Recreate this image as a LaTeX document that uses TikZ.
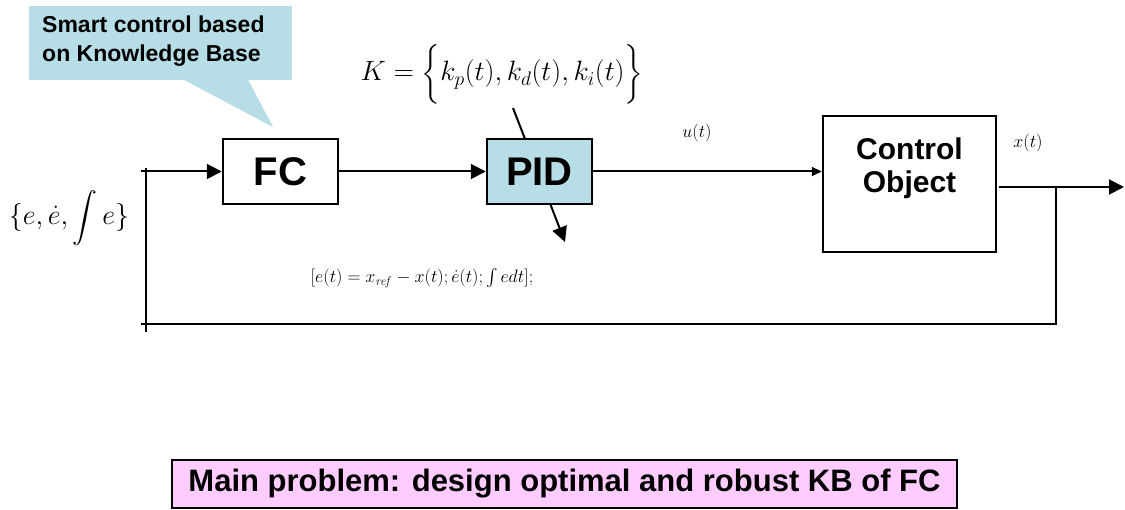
\RequirePackage{fix-cm}
\documentclass[tikz,border=0pt]{standalone}
\usepackage{exscale}
\usepackage[no-math]{fontspec}
\newfontfamily\arial{Liberation Sans}
\usetikzlibrary{arrows.meta}
\definecolor{calloutblue}{RGB}{183,221,230}
\definecolor{probpink}{RGB}{255,204,255}
\begin{document}
\begin{tikzpicture}[x=1pt,y=-1pt,
  block/.style={draw=black, line width=2.5pt, inner sep=0pt, align=center},
  conn/.style={line width=2pt},
  bigarrow/.style={conn, -{Triangle[length=15pt,width=15pt]}},
  smallarrow/.style={conn, -{Triangle[length=10pt,width=9pt]}},
  blabel/.style={font=\arial\bfseries\fontsize{40}{44}\selectfont},
  mlabel/.style={inner sep=0pt}
]
\useasboundingbox (0,0) rectangle (1125,510);

% callout
\node[fill=calloutblue, minimum width=263pt, minimum height=74pt, inner sep=0pt, anchor=north west] (callout) at (29,6) {};
\coordinate (tip) at (273,127);
\fill[calloutblue] ([xshift=154pt,yshift=1pt]callout.south west) -- (tip) -- ([xshift=219pt,yshift=1pt]callout.south west) -- cycle;
\node[anchor=north west, align=left, inner sep=0pt, font=\arial\bfseries\fontsize{23}{29}\selectfont] (calltext) at (42,16) {Smart control based\\on Knowledge Base};

% K line (behind PID)
\coordinate (kstart) at (513,108);
\coordinate (kend) at (565,242);
\draw[bigarrow] (kstart) -- (kend);

% blocks
\node[block, blabel, minimum width=115pt, minimum height=65pt] (FC) at (280.5,171.5) {FC};
\node[block, blabel, fill=calloutblue, minimum width=105pt, minimum height=65pt] (PID) at (539.5,171.5) {PID};
\node[block, font=\arial\bfseries\fontsize{30}{33}\selectfont, minimum width=173pt, minimum height=136pt, text depth=37pt] (CO) at (909.5,184) {Control\\Object};

% connectors
\coordinate (fbtop) at (146,168);
\coordinate (fbbot) at (146,332);
\coordinate (instart) at (141,171.5);
\coordinate (fbleft) at (141,324);
\coordinate (outstart) at (999,187);
\coordinate (branch) at (1056,187);
\coordinate (outend) at (1124,187);
\draw[line width=1.5pt] (fbtop) -- (fbbot);
\draw[bigarrow] (instart) -- (FC.west);
\draw[bigarrow] (FC) -- (PID);
\draw[smallarrow] (PID.east) -- (PID.east -| CO.west);
\draw[bigarrow] (outstart) -- (outend);
\draw[conn] (branch) |- (fbleft);

% math labels
\node[mlabel, font=\fontsize{28}{32}\selectfont] (klabel) at (502,74) {$K=\Bigl\{k_p(t),k_d(t),k_i(t)\Bigr\}$};
\node[mlabel, font=\fontsize{28}{32}\selectfont] (elabel) at (69,218) {$\{e,\dot e,\displaystyle\int e\}$};
\node[mlabel, font=\fontsize{18}{21}\selectfont] (errlabel) at (422,278) {$[e(t)=x_{\mathit{ref}}-x(t);\dot e(t);\int edt];$};
\node[mlabel, font=\fontsize{18}{21}\selectfont] (ulabel) at (697,133) {$u(t)$};
\node[mlabel, font=\fontsize{18}{21}\selectfont] (xlabel) at (1028,143) {$x(t)$};

% main problem
\node[draw=black, line width=2pt, fill=probpink, minimum width=785pt, minimum height=48pt, inner sep=0pt, font=\arial\bfseries\fontsize{31}{34}\selectfont] (problem) at (564.5,484) {Main problem: design optimal and robust KB of FC};
\end{tikzpicture}
\end{document}
